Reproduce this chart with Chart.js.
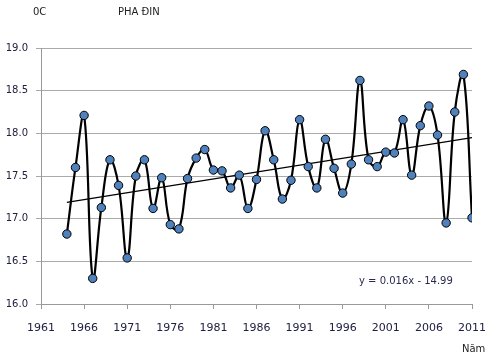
<!DOCTYPE html>
<html>
<head>
<meta charset="utf-8">
<script src="https://cdn.jsdelivr.net/npm/chart.js@4.4.1/dist/chart.umd.min.js"></script>
<style>
  body { margin: 0; background: #fff; }
  #wrap { position: relative; width: 499px; height: 359px; }
  .lbl { position: absolute; font-family: "DejaVu Sans", sans-serif; color: #222; white-space: nowrap; }
</style>
</head>
<body>
<div id="wrap">
  <canvas id="myChart" width="499" height="359"></canvas>
  <div class="lbl" style="left:33px; top:6px; font-size:10px;">0C</div>
  <div class="lbl" style="left:118px; top:6px; font-size:10px;">PHA ĐIN</div>
  <div class="lbl" style="left:462px; top:343px; font-size:10px;">Năm</div>
  <div class="lbl" style="left:359px; top:275px; font-size:10px; color:#2a2a50;">y = 0.016x - 14.99</div>
</div>
<script>
// years and mean temperature (0C)
const years = [
  1964, 1965, 1966, 1967, 1968, 1969, 1970, 1971, 1972, 1973,
  1974, 1975, 1976, 1977, 1978, 1979, 1980, 1981, 1982, 1983,
  1984, 1985, 1986, 1987, 1988, 1989, 1990, 1991, 1992, 1993,
  1994, 1995, 1996, 1997, 1998, 1999, 2000, 2001, 2002, 2003,
  2004, 2005, 2006, 2007, 2008, 2009, 2010, 2011
];
const temps = [
  16.82, 17.60, 18.21, 16.30, 17.13, 17.69, 17.39, 16.54, 17.50, 17.69,
  17.12, 17.48, 16.93, 16.88, 17.47, 17.71, 17.81, 17.57, 17.56, 17.36,
  17.51, 17.12, 17.46, 18.03, 17.69, 17.23, 17.45, 18.16, 17.61, 17.36,
  17.93, 17.59, 17.30, 17.64, 18.62, 17.69, 17.61, 17.78, 17.77, 18.16,
  17.51, 18.09, 18.32, 17.98, 16.95, 18.25, 18.69, 17.01
];
// trend line ends as drawn
const trendYears = [1964, 2011];
const trendVals = [17.19, 17.95];

const yTicks = [16.0, 16.5, 17.0, 17.5, 18.0, 18.5, 19.0];
const xTicks = [1961, 1966, 1971, 1976, 1981, 1986, 1991, 1996, 2001, 2006, 2011];

const config = {
  type: "line",
  data: {
    datasets: [
      {
        label: "temp",
        data: years.map((y, i) => ({ x: y, y: temps[i] })),
        borderColor: "#000",
        borderWidth: 2.2,
        tension: 0.4,
        pointRadius: 4.2,
        pointBackgroundColor: "#4f81bd",
        pointBorderColor: "#000",
        pointBorderWidth: 1,
      },
      {
        label: "trend",
        data: trendYears.map((y, i) => ({ x: y, y: trendVals[i] })),
        borderColor: "#000",
        borderWidth: 1.3,
        pointRadius: 0,
        tension: 0,
      },
    ],
  },
  options: {
    responsive: false,
    animation: false,
    layout: { padding: { top: 48, right: 25, left: 0, bottom: 0 } },
    plugins: { legend: { display: false }, tooltip: { enabled: false } },
    scales: {
      x: {
        type: "linear",
        min: 1961,
        max: 2011,
        afterBuildTicks: (s) => { s.ticks = xTicks.map(v => ({ value: v })); },
        afterFit: (s) => { s.height = 55; },
        grid: { drawOnChartArea: false, drawTicks: true, tickLength: 5, color: "#999" },
        border: { color: "#999" },
        ticks: {
          padding: 13,
          color: "#202040",
          font: { family: "DejaVu Sans", size: 11 },
          maxRotation: 0,
          callback: (v) => String(v),
        },
      },
      y: {
        min: 16,
        max: 19,
        afterBuildTicks: (s) => { s.ticks = yTicks.map(v => ({ value: v })); },
        afterFit: (s) => { s.width = 41; },
        grid: { color: "#aaa", tickLength: 5 },
        border: { color: "#999" },
        ticks: {
          padding: 8,
          color: "#202040",
          font: { family: "DejaVu Sans", size: 10 },
          callback: (v) => v.toFixed(1),
        },
      },
    },
  },
};
var myChart = new Chart(document.getElementById("myChart"), config);
</script>
</body>
</html>
